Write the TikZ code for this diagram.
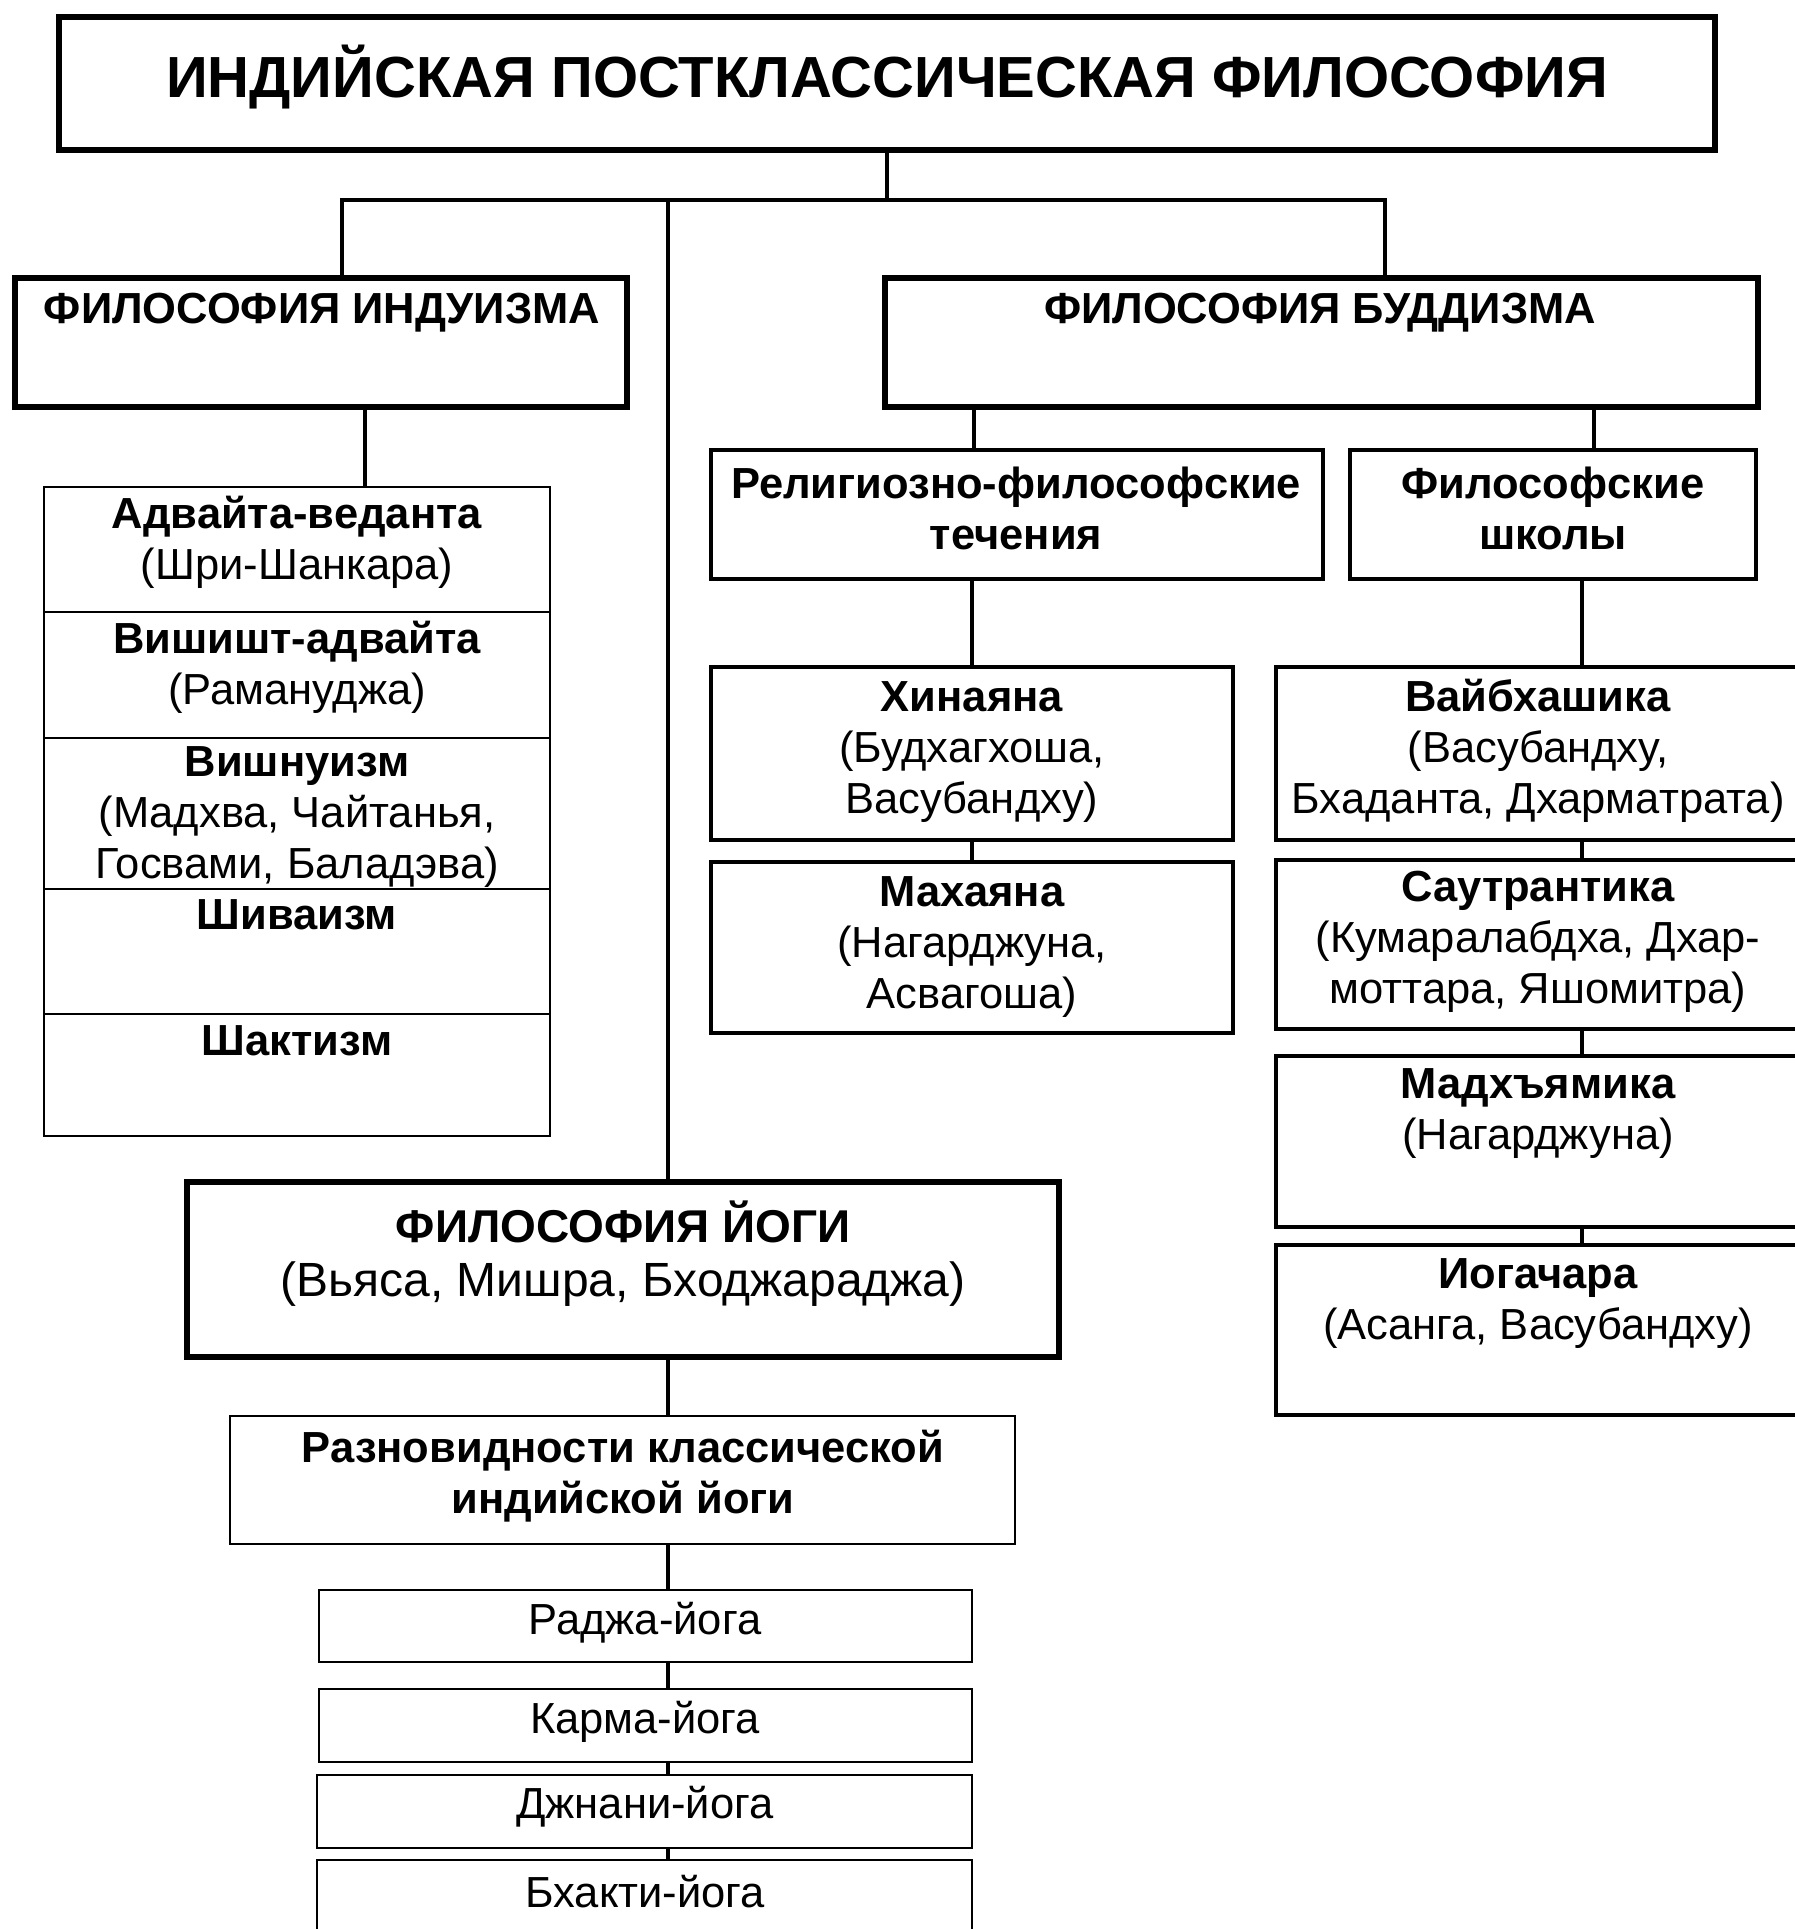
\documentclass[tikz,border=0pt]{standalone}
\usepackage{fontspec}
\setmainfont{Liberation Sans}

\newcommand\ttlfont{\fontsize{58}{70}\selectfont\bfseries}
\newcommand\hdfont{\fontsize{43.5}{51}\selectfont\bfseries}
\newcommand\rgfont{\fontsize{43.5}{51}\selectfont}
\newcommand\yogafont{\fontsize{48}{54}\selectfont}

\begin{document}
\begin{tikzpicture}[x=1pt, y=-1pt,
    bigbox/.style={rectangle, draw, line width=6pt, inner sep=0pt},
    box/.style={rectangle, draw, line width=3.5pt, inner sep=0pt},
    cell/.style={rectangle, draw, line width=2.5pt, inner sep=0pt},
    txt/.style={align=center, inner sep=0pt, font=\rgfont},
    con/.style={line width=4pt}]

    \useasboundingbox[fill=white] (0,0) rectangle (1795,1929);

    % Top level
    \node[bigbox, minimum width=1656pt, minimum height=133pt] (root) at (887,83.5) {};
    \node[txt, font=\ttlfont] (root-t) at (887,77) {ИНДИЙСКАЯ ПОСТКЛАССИЧЕСКАЯ ФИЛОСОФИЯ};

    \node[bigbox, minimum width=612pt, minimum height=129pt] (hindu) at (321,342.5) {};
    \node[txt, font=\hdfont] (hindu-t) at (322,313) {ФИЛОСОФИЯ ИНДУИЗМА};
    \node[bigbox, minimum width=873pt, minimum height=129pt] (buddh) at (1321.5,342.5) {};
    \node[txt, font=\hdfont] (buddh-t) at (1320,313) {ФИЛОСОФИЯ БУДДИЗМА};

    % Hinduism schools
    \node[cell, minimum width=506pt, minimum height=125pt] (advaita) at (297,549.5) {};
    \node[txt] (advaita-t) at (297,542) {\textbf{Адвайта-веданта}\\(Шри-Шанкара)};
    \node[cell, minimum width=506pt, minimum height=126pt] (vishisht) at (297,675) {};
    \node[txt] (vishisht-t) at (297,667) {\textbf{Вишишт-адвайта}\\(Рамануджа)};
    \node[cell, minimum width=506pt, minimum height=151pt] (vishnu) at (297,813.5) {};
    \node[txt] (vishnu-t) at (297,817) {\textbf{Вишнуизм}\\(Мадхва, Чайтанья,\\Госвами, Баладэва)};
    \node[cell, minimum width=506pt, minimum height=125pt] (shiva) at (297,951.5) {};
    \node[txt] (shiva-t) at (297,915) {\textbf{Шиваизм}};
    \node[cell, minimum width=506pt, minimum height=122pt] (shakti) at (297,1075) {};
    \node[txt] (shakti-t) at (297,1041) {\textbf{Шактизм}};

    % Buddhism
    \node[box, minimum width=612pt, minimum height=129pt] (relig) at (1017,514.5) {};
    \node[txt, font=\hdfont] (relig-t) at (1016,508) {Религиозно-философские\\течения};
    \node[box, minimum width=406pt, minimum height=129pt] (school) at (1553,514.5) {};
    \node[txt, font=\hdfont] (school-t) at (1553,508) {Философские\\школы};

    \node[box, minimum width=522pt, minimum height=173pt] (hina) at (972,753.5) {};
    \node[txt] (hina-t) at (972,752) {\textbf{Хинаяна}\\(Будхагхоша,\\Васубандху)};
    \node[box, minimum width=522pt, minimum height=171pt] (maha) at (972,947.5) {};
    \node[txt] (maha-t) at (972,947) {\textbf{Махаяна}\\(Нагарджуна,\\Асвагоша)};

    \node[box, minimum width=524pt, minimum height=173pt] (vaib) at (1538,753.5) {};
    \node[txt] (vaib-t) at (1538,751) {\textbf{Вайбхашика}\\(Васубандху,\\Бхаданта, Дхарматрата)};
    \node[box, minimum width=524pt, minimum height=169pt] (saut) at (1538,944.5) {};
    \node[txt] (saut-t) at (1538,942) {\textbf{Саутрантика}\\(Кумаралабдха, Дхар-\\моттара, Яшомитра)};
    \node[box, minimum width=524pt, minimum height=171pt] (madh) at (1538,1141.5) {};
    \node[txt] (madh-t) at (1538,1114) {\textbf{Мадхъямика}\\(Нагарджуна)};
    \node[box, minimum width=524pt, minimum height=170pt] (yogach) at (1538,1330) {};
    \node[txt] (yogach-t) at (1538,1304) {\textbf{Иогачара}\\(Асанга, Васубандху)};

    % Yoga
    \node[bigbox, minimum width=872pt, minimum height=175pt] (yoga) at (623,1269.5) {};
    \node[txt, font=\yogafont] (yoga-t) at (623,1254) {\textbf{\fontsize{46}{54}\selectfont ФИЛОСОФИЯ ЙОГИ}\\(Вьяса, Мишра, Бходжараджа)};
    \node[cell, minimum width=785pt, minimum height=128pt] (kinds) at (622.5,1480) {};
    \node[txt, font=\hdfont] (kinds-t) at (623,1476) {Разновидности классической\\индийской йоги};

    \node[cell, minimum width=653pt, minimum height=72pt] (raja) at (645.5,1626) {};
    \node[txt] (raja-t) at (645,1623) {Раджа-йога};
    \node[cell, minimum width=653pt, minimum height=73pt] (karma) at (645.5,1725.5) {};
    \node[txt] (karma-t) at (645,1722) {Карма-йога};
    \node[cell, minimum width=655pt, minimum height=73pt] (jnani) at (644.5,1811.5) {};
    \node[txt] (jnani-t) at (645,1807) {Джнани-йога};
    \node[cell, minimum width=655pt, minimum height=75pt] (bhakti) at (644.5,1897.5) {};
    \node[txt] (bhakti-t) at (645,1892) {Бхакти-йога};

    % Connectors
    \coordinate (lbr) at (342,200);
    \coordinate (mbr) at (668,200);
    \coordinate (rbr) at (1385,200);
    \draw[con] (root.south) -- (root.south |- lbr);
    \draw[con] (lbr |- hindu.north) -- (lbr) -- (rbr) -- (rbr |- buddh.north);
    \draw[con] (mbr) -- (mbr |- yoga.north);

    \draw[con] (hindu.south -| 365,0) -- (advaita.north -| 365,0);
    \draw[con] (buddh.south -| 974,0) -- (relig.north -| 974,0);
    \draw[con] (buddh.south -| 1594,0) -- (school.north -| 1594,0);
    \draw[con] (relig.south -| hina.north) -- (hina.north);
    \draw[con] (hina) -- (maha);
    \draw[con] (school.south -| 1582,0) -- (vaib.north -| 1582,0);
    \foreach \a/\b in {vaib/saut, saut/madh, madh/yogach}
        \draw[con] (\a.south -| 1582,0) -- (\b.north -| 1582,0);
    \foreach \a/\b in {yoga/kinds, kinds/raja, raja/karma, karma/jnani, jnani/bhakti}
        \draw[con] (\a.south -| mbr) -- (\b.north -| mbr);
\end{tikzpicture}
\end{document}
